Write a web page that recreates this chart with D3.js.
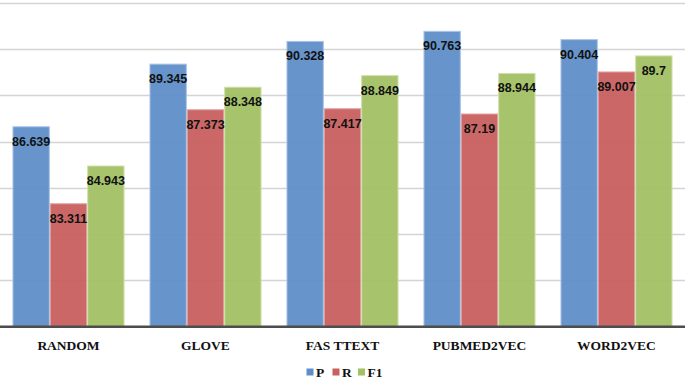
<!DOCTYPE html>
<html>
<head>
<meta charset="utf-8">
<script src="https://cdn.jsdelivr.net/npm/d3@7"></script>
<style>
  body { margin: 0; background: #fff; }
</style>
</head>
<body>
<div id="chart"></div>
<script>
var categories = ['RANDOM', 'GLOVE', 'FASTTEXT', 'PUBMED2VEC', 'WORD2VEC'];
var categoryLabels = ['RANDOM', 'GLOVE', 'FAS TTEXT', 'PUBMED2VEC', 'WORD2VEC'];
var seriesNames = ['P', 'R', 'F1'];
var pValues = [86.639, 89.345, 90.328, 90.763, 90.404];
var rValues = [83.311, 87.373, 87.417, 87.19, 89.007];
var f1Values = [84.943, 88.348, 88.849, 88.944, 89.7];
var labelText = [
    ['86.639', '89.345', '90.328', '90.763', '90.404'],
    ['83.311', '87.373', '87.417', '87.19', '89.007'],
    ['84.943', '88.348', '88.849', '88.944', '89.7']
];
var gridTicks = [78, 80, 82, 84, 86, 88, 90, 92];

var colors = ['#5f8fc8', '#c8605f', '#a2c064'];
var borders = ['#a9c4e6', '#e0a09e', '#cfe0a8'];

var width = 685, height = 379;
var plotTop = 2.7, plotBottom = 326.7;

var svg = d3.select('#chart')
    .append('svg')
    .attr('width', width)
    .attr('height', height);

var xScale = d3.scaleBand()
    .domain(categories)
    .range([0, width])
    .paddingInner(0.182)
    .paddingOuter(0.091);

var xSub = d3.scaleBand()
    .domain(seriesNames)
    .range([0, xScale.bandwidth()]);

var yScale = d3.scaleLinear()
    .domain([78, 92])
    .range([plotBottom, plotTop]);

// gridlines
svg.append('g')
    .selectAll('line')
    .data(gridTicks.slice(1))
    .enter()
    .append('line')
    .attr('x1', 0)
    .attr('x2', width)
    .attr('y1', d => Math.round(yScale(d)) + 0.5)
    .attr('y2', d => Math.round(yScale(d)) + 0.5)
    .attr('stroke', '#d4d4d4')
    .attr('stroke-width', 1.5);

var data = [];
var seriesValues = [pValues, rValues, f1Values];
for(let i1 = 0; i1 < categories.length; i1++) {
    for(let i2 = 0; i2 < seriesNames.length; i2++) {
        data.push({ cat: categories[i1], s: i2, value: seriesValues[i2][i1], label: labelText[i2][i1] });
    }
}

var bars = svg.append('g');

bars.selectAll('rect')
    .data(data)
    .enter()
    .append('rect')
    .attr('x', d => xScale(d.cat) + xSub(seriesNames[d.s]) + 0.5)
    .attr('y', d => yScale(d.value))
    .attr('width', xSub.bandwidth() - 1)
    .attr('height', d => plotBottom - yScale(d.value))
    .attr('fill', d => colors[d.s])
    .attr('fill-opacity', 0.95)
    .attr('stroke', d => borders[d.s])
    .attr('stroke-width', 1);

bars.selectAll('text')
    .data(data)
    .enter()
    .append('text')
    .attr('x', d => xScale(d.cat) + xSub(seriesNames[d.s]) + xSub.bandwidth() / 2)
    .attr('y', d => yScale(d.value) + 19)
    .attr('text-anchor', 'middle')
    .attr('font-family', 'Liberation Sans, Arial, sans-serif')
    .attr('font-weight', 'bold')
    .attr('font-size', '12.5px')
    .attr('fill', '#111')
    .text(d => d.label);

// baseline
svg.append('line')
    .attr('x1', 0)
    .attr('x2', width)
    .attr('y1', plotBottom)
    .attr('y2', plotBottom)
    .attr('stroke', '#4d4d4d')
    .attr('stroke-width', 2.5);

// category labels
svg.append('g')
    .selectAll('text')
    .data(categories)
    .enter()
    .append('text')
    .attr('x', d => xScale(d) + xScale.bandwidth() / 2)
    .attr('y', 350)
    .attr('text-anchor', 'middle')
    .attr('font-family', 'Liberation Serif, Times New Roman, serif')
    .attr('font-weight', 'bold')
    .attr('font-size', '13.5px')
    .attr('fill', '#111')
    .text((d, i) => categoryLabels[i]);

// legend
var legendX = [306.5, 332.5, 358];
var legend = svg.append('g');
legend.selectAll('rect')
    .data(seriesNames)
    .enter()
    .append('rect')
    .attr('x', (d, i) => legendX[i])
    .attr('y', 368.5)
    .attr('width', 7)
    .attr('height', 7)
    .attr('fill', (d, i) => colors[i]);

legend.selectAll('text')
    .data(seriesNames)
    .enter()
    .append('text')
    .attr('x', (d, i) => legendX[i] + 9.5)
    .attr('y', 376.5)
    .attr('font-family', 'Liberation Serif, Times New Roman, serif')
    .attr('font-weight', 'bold')
    .attr('font-size', '13.5px')
    .attr('fill', '#111')
    .text(d => d);
</script>
</body>
</html>
